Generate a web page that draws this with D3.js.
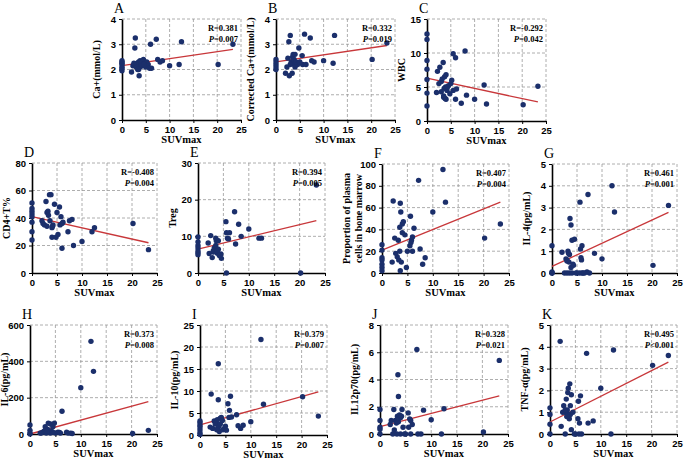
<!DOCTYPE html>
<html><head><meta charset="utf-8">
<script src="https://cdn.jsdelivr.net/npm/d3@7"></script>
<style>body{margin:0;background:#fff}</style>
</head><body>
<svg width="685" height="462"></svg>
<script>
// panel data: [SUVmax, value]
var ptsA = [[0,1.95],[0,2.05],[0,2.1],[0,2.2],[0,2.25],[0,2.3],[0,2.35],[2,1.9],[2.3,2.15],[2.8,3.25],[2.7,2.85],[3,2.2],[3.2,2.25],[3.5,2.3],[3.5,2.0],[3.6,1.75],[3.8,2.35],[3.8,2.1],[4,2.2],[4,2.3],[4.2,2.15],[4.5,2.4],[4.8,2.25],[5,2.1],[5.2,2.3],[5.5,2.2],[5.8,2.05],[6,3.0],[6.2,2.05],[7.2,3.2],[7.5,2.4],[8,2.3],[8.5,2.35],[10,2.15],[12,2.2],[12.5,3.1],[20.2,2.2],[23.3,3.0],[3,2.1],[3.3,2.0],[4.6,2.2],[2.5,2.25]];
var ptsB = [[0,2.0],[0,2.1],[0,2.2],[0,2.3],[0,2.4],[2,1.85],[2.3,2.1],[2.5,2.45],[2.7,3.1],[2.8,1.75],[3,3.35],[3.2,2.3],[3.5,2.5],[3.6,2.6],[3.8,2.2],[3.8,2.4],[4,2.25],[4,2.6],[4.2,2.3],[4.5,2.2],[4.8,2.85],[5.5,2.55],[5.6,2.2],[6,3.4],[6.3,2.2],[7.2,3.25],[7.5,2.35],[8,2.3],[10,2.35],[12,2.25],[12.3,3.35],[20.2,2.4],[23.3,3.05],[3,2.2],[3.4,1.85],[4,2.1],[5,2.3]];
var ptsC = [[0,12.8],[0,12],[0,8.9],[0,7.6],[0,6.1],[0,4.1],[0,2.2],[2,4.2],[2.2,7.3],[2.5,5.5],[2.7,7.9],[3,5.8],[3.2,6.2],[3.4,8.6],[3.5,3.5],[3.6,4.8],[3.7,6.5],[3.8,3.3],[3.9,5.0],[4,6.8],[4,3.2],[4.2,4.5],[4.5,5.2],[4.8,4.0],[5,5.5],[5.2,6.0],[5.5,9.9],[5.5,4.5],[6,9.3],[6,3.2],[6.2,4.7],[7.2,2.6],[8,10.3],[8.3,3.8],[10,3.2],[12,5.3],[12.5,2.5],[20.2,2.4],[23.3,5.1],[3,4.3],[3.5,3.7],[4.3,5.0]];
var ptsD = [[0,51],[0,47],[0,45],[0,43],[0,41],[0,37],[0,30],[0,24],[2,38],[2.2,36],[2.5,35],[2.8,52],[3,44],[3,34],[3.2,45],[3.5,57],[3.6,38],[3.8,57],[4,33],[4,26],[4.2,35],[4.5,50],[4.8,26],[5,44],[5.2,28],[5.5,48],[5.8,41],[6,36],[6,18],[6.2,37],[7.2,30],[7.5,38],[8,39],[8.3,20],[10,23],[12,30],[12.5,33],[20.2,36],[23.3,17],[3.3,42],[4.1,34],[5.6,35]];
var ptsE = [[0,9.8],[0,8.5],[0,7.5],[0,6.8],[0,6],[0,5.5],[0,5],[2,8.2],[2.2,5.3],[2.5,10.2],[2.8,4.2],[3,6],[3.2,6.8],[3.5,9.5],[3.5,7.5],[3.6,8.8],[3.8,5.4],[4,6.5],[4,8.8],[4.2,4.8],[4.5,5.2],[4.6,4.0],[5.5,14],[5.6,11],[5.6,0],[5.8,9.5],[6,9.3],[6.2,11],[7.2,16.7],[7.4,7.9],[8,13.3],[8.5,10],[10,12],[12,9.5],[12.5,9.5],[20.2,0],[23.3,24],[3,5.7],[3.8,6.1],[4.3,5.0]];
var ptsF = [[0,26],[0,21],[0,14],[0,12],[0,8],[0,5],[0,2],[2,10],[2.2,66],[2.5,32],[2.7,18],[3,15],[3.2,30],[3.3,12],[3.5,42],[3.5,20],[3.6,64],[3.7,56],[3.8,10],[4,45],[4,37],[4.2,47],[4.5,35],[4.8,5],[5,20],[5.5,25],[5.6,52],[5.8,30],[6,33],[6,20],[6.3,41],[7.2,85],[7.5,22],[8,8],[8.5,14],[10,56],[12,95],[12.5,65],[20.2,32],[23.3,45],[3.6,2],[5.7,28]];
var ptsG = [[0,1.25],[0,0.05],[0,0],[0,0],[2,0.95],[2.5,0],[2.8,0.65],[3,0.55],[3,0],[3.2,1.0],[3.4,0.5],[3.5,0.85],[3.5,0],[3.6,2.5],[3.8,2.2],[3.8,0.25],[4,1.5],[4,0],[4.2,0.4],[4.5,1.55],[4.8,0],[5,0],[5.6,3.25],[5.7,1.1],[5.8,0.7],[5.9,0.6],[6,1.25],[6,0],[6.2,0],[7,0.05],[7.2,3.6],[7.5,0],[8.5,0.9],[10,0.65],[12,4.0],[12.5,2.8],[20.2,0.35],[23.3,3.1],[3,0.6],[3.3,0.9],[4.3,0.35],[5.5,0],[6.5,0]];
var ptsH = [[0,50],[0,20],[0,5],[0,0],[2,5],[2.5,10],[2.8,15],[3,20],[3.2,5],[3.5,25],[3.6,60],[3.8,10],[4,55],[4,5],[4.2,15],[4.5,40],[4.8,60],[5,5],[5.5,10],[5.8,8],[6,5],[6.3,125],[7.2,10],[7.5,5],[8,5],[8.3,3],[10,255],[12,510],[12.5,345],[20.2,3],[23.3,20],[3,40],[3.3,15],[4.5,10],[2.2,5]];
var ptsI = [[0,3.2],[0,2.8],[0,2.2],[0,1.8],[0,1.2],[0,0.5],[0,0.1],[2,1.8],[2.2,9.3],[2.5,1.5],[2.8,3.2],[3,2.5],[3.2,2.8],[3.4,3.5],[3.5,1.5],[3.6,8],[3.6,16.2],[3.7,2.0],[3.8,0.8],[4,3.8],[4,2.5],[4.2,4.0],[4.5,1.2],[4.8,1.5],[5,2.0],[5.5,7.1],[5.7,4.0],[5.8,5.6],[6,8.8],[6.2,4.1],[7.2,4.6],[7.5,2.1],[8,1.5],[8.5,2.2],[10,3.0],[12,21.7],[12.5,7.0],[20.2,8.7],[23.3,4.3],[3.3,1.2],[4.4,3.3],[5.2,1.1]];
var ptsJ = [[0,1.8],[0,1],[0,0.5],[0,0.35],[0,0],[2,0.7],[2.2,1.0],[2.5,0],[2.7,1.8],[2.8,0.3],[3,1.0],[3.2,0.8],[3.4,1.3],[3.5,4.35],[3.6,2.75],[3.6,0.9],[3.8,1.4],[4,1.2],[4,0],[4.3,1.8],[4.5,0.5],[4.8,0],[5,0],[5.5,1.55],[5.6,0.5],[5.8,1.1],[6,1.0],[6,0],[6.3,0.7],[7.2,6.2],[7.4,0],[8,0],[8.5,1.75],[10,1.05],[12,0],[12.5,1.85],[20.2,0.15],[23.3,5.4],[3.3,0],[4.2,1.3]];
var ptsK = [[0,1.2],[0,0.9],[0,0.45],[0,0],[2,4.25],[2.2,0.35],[2.5,1.0],[2.7,1.3],[3,0],[3,1.0],[3.2,1.6],[3.4,1.1],[3.5,1.9],[3.6,2.1],[3.6,0.9],[3.8,0.7],[3.9,2.3],[4,1.3],[4,0.9],[4.2,0.2],[4.5,1.0],[4.8,0],[5,0],[5.5,0.7],[5.6,1.5],[5.8,0.5],[6,1.75],[6.2,0],[7.2,3.7],[7.5,0.5],[8.5,0.6],[10,2.1],[12,0],[12.5,3.85],[20.2,3.15],[23.3,3.6],[3,1.1],[3.3,0.8],[4.2,1.8],[5.7,0]];

// fit line endpoints at SUVmax 0 and 23.3
var fitA = [2.15, 2.8], fitB = [2.3, 2.95], fitC = [6.3, 2.8], fitD = [41, 22];
var fitE = [6.5, 14.3], fitF = [21, 65], fitG = [0.3, 2.78], fitH = [0, 178];
var fitI = [2.3, 9.8], fitJ = [0.55, 2.8], fitK = [0.55, 3.3];

var xTicks = [0, 5, 10, 15, 20, 25];

var panels = [
  {id:'A', pts:ptsA, fit:fitA, ymax:4, step:1, lab:['Ca+(mmol/L)'], r:'0.381', p:'=0.007', box:[122,19,241,120]},
  {id:'B', pts:ptsB, fit:fitB, ymax:4, step:1, lab:['Corrected Ca+(mmol/L)'], r:'0.332', p:'=0.019', box:[276,19,395,120]},
  {id:'C', pts:ptsC, fit:fitC, ymax:15, step:5, lab:['WBC'], r:'-0.292', p:'=0.042', box:[427,19,546,121]},
  {id:'D', pts:ptsD, fit:fitD, ymax:80, step:20, lab:['CD4+T%'], r:'-0.408', p:'=0.004', box:[32,163,157,273]},
  {id:'E', pts:ptsE, fit:fitE, ymax:30, step:10, lab:['Treg'], r:'0.394', p:'=0.005', box:[198,163,325,273]},
  {id:'F', pts:ptsF, fit:fitF, ymax:100, step:20, lab:['Proportion of plasma','cells in bone marrow'], r:'0.407', p:'=0.004', box:[382,164,509,273]},
  {id:'G', pts:ptsG, fit:fitG, ymax:5, step:1, lab:['IL-4(pg/mL)'], r:'0.461', p:'=0.001', box:[552,164,677,273]},
  {id:'H', pts:ptsH, fit:fitH, ymax:600, step:200, lab:['IL-6(pg/mL)'], r:'0.373', p:'=0.008', box:[30,325,157,434]},
  {id:'I', pts:ptsI, fit:fitI, ymax:25, step:5, lab:['IL-10(pg/mL)'], r:'0.379', p:'=0.007', box:[200,325,327,435]},
  {id:'J', pts:ptsJ, fit:fitJ, ymax:8, step:2, lab:['IL12p70(pg/mL)'], r:'0.328', p:'=0.021', box:[380,325,508,434]},
  {id:'K', pts:ptsK, fit:fitK, ymax:5, step:1, lab:['TNF-α(pg/mL)'], r:'0.495', p:'<0.001', box:[550,325,677,434]}
];

var svg = d3.select('svg');

panels.forEach(function(pn) {
    var b = pn.box;
    var x = d3.scaleLinear().domain([0, 25]).range([b[0], b[2]]);
    var y = d3.scaleLinear().domain([0, pn.ymax]).range([b[3], b[1]]);
    var yTicks = d3.range(0, pn.ymax + pn.step / 2, pn.step);
    var g = svg.append('g');

    // dashed grid
    g.selectAll('.gx').data(xTicks.slice(1)).enter().append('line')
        .attr('x1', function(d) { return x(d); }).attr('x2', function(d) { return x(d); })
        .attr('y1', b[1]).attr('y2', b[3])
        .attr('stroke', '#999').attr('stroke-dasharray', '3,2').attr('stroke-width', 0.8);
    g.selectAll('.gy').data(yTicks.slice(1)).enter().append('line')
        .attr('y1', function(d) { return y(d); }).attr('y2', function(d) { return y(d); })
        .attr('x1', b[0]).attr('x2', b[2])
        .attr('stroke', '#999').attr('stroke-dasharray', '3,2').attr('stroke-width', 0.8);

    g.append('g').attr('transform', 'translate(0,' + b[3] + ')')
        .call(d3.axisBottom(x).tickValues(xTicks).tickFormat(d3.format('d')).tickSize(3).tickSizeOuter(0));
    g.append('g').attr('transform', 'translate(' + b[0] + ',0)')
        .call(d3.axisLeft(y).tickValues(yTicks).tickFormat(d3.format('d')).tickSize(3).tickSizeOuter(0));
    g.selectAll('.domain').attr('stroke-width', 1.6);
    g.selectAll('.tick text').attr('font-family', 'Liberation Sans, Arial, sans-serif')
        .attr('font-weight', 'bold').attr('font-size', 9.5);

    g.append('line')
        .attr('x1', x(0)).attr('y1', y(pn.fit[0]))
        .attr('x2', x(23.3)).attr('y2', y(pn.fit[1]))
        .attr('stroke', '#c8373a').attr('stroke-width', 1.3);

    g.selectAll('circle').data(pn.pts).enter().append('circle')
        .attr('cx', function(d) { return x(d[0]); })
        .attr('cy', function(d) { return y(d[1]); })
        .attr('r', 2.7).attr('fill', '#1b2f6b');

    var serif = 'Liberation Serif, Times New Roman, serif';
    g.append('text').attr('x', b[0] - 8).attr('y', b[1] - 6)
        .attr('font-family', serif).attr('font-size', 14).text(pn.id);

    g.append('text').attr('x', (b[0] + b[2]) / 2).attr('y', b[3] + 23)
        .attr('text-anchor', 'middle').attr('font-family', serif)
        .attr('font-weight', 'bold').attr('font-size', 10.5).text('SUVmax');

    var cy = (b[1] + b[3]) / 2;
    var lx = pn.lab.length > 1 ? b[0] - 32 : b[0] - 22;
    var yl = g.append('text').attr('transform', 'translate(' + lx + ',' + cy + ') rotate(-90)')
        .attr('text-anchor', 'middle').attr('font-family', serif)
        .attr('font-weight', 'bold').attr('font-size', 10);
    pn.lab.forEach(function(t, i) {
        yl.append('tspan').attr('x', 0).attr('dy', i ? 12 : 0).text(t);
    });

    g.append('text').attr('x', b[2] - 3).attr('y', b[1] + 12)
        .attr('text-anchor', 'end').attr('font-family', serif)
        .attr('font-weight', 'bold').attr('font-size', 8.5).text('R=' + pn.r);
    var pt = g.append('text').attr('x', b[2] - 3).attr('y', b[1] + 23)
        .attr('text-anchor', 'end').attr('font-family', serif)
        .attr('font-weight', 'bold').attr('font-size', 8.5);
    pt.append('tspan').attr('font-style', 'italic').text('P');
    pt.append('tspan').text(pn.p);
});
</script>
</body></html>
